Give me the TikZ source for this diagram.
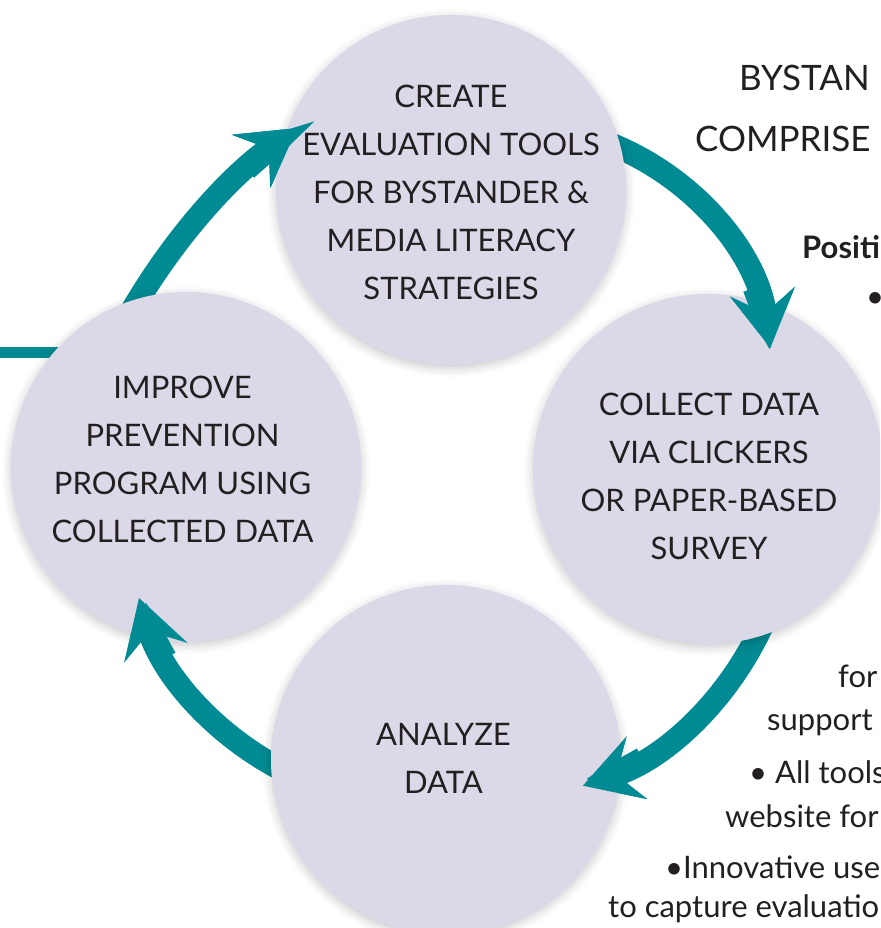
\documentclass[tikz,border=0pt]{standalone}
\usepackage{fontspec}
\setmainfont{Lato}
\usetikzlibrary{arrows.meta,shadows.blur}
\definecolor{tealc}{RGB}{0,139,148}
\definecolor{lav}{RGB}{219,217,232}
\definecolor{ink}{RGB}{35,31,32}
\pgfdeclarelayer{back}
\pgfdeclarelayer{front}
\pgfsetlayers{back,main,front}
\begin{document}
\begin{tikzpicture}[x=1pt,y=-1pt,
  stage/.style={circle, fill=lav, minimum size=350pt, inner sep=0pt,
    blur shadow={shadow xshift=0pt, shadow yshift=-3pt, shadow blur radius=9pt, shadow opacity=22}},
  lbl/.style={font=\fontsize{31}{48}\selectfont, text=ink, align=center, inner sep=0pt},
  flow/.style={draw=tealc, line width=23pt,
    -{Stealth[length=57pt, width=66pt, inset=22pt, line width=0pt]}},
  side/.style={font=\fontsize{31}{47}\selectfont, text=ink, anchor=base west, inner sep=0pt},
  head/.style={side, font=\fontsize{35}{47}\selectfont}]
\useasboundingbox (0,0) rectangle (880,928);
\clip (0,0) rectangle (880,928);

% stages
\node[stage] (top) at (451,190) {};
\node[stage] (right) at (708,469) {};
\node[stage] (bottom) at (446,760) {};
\node[stage] (left) at (186,467) {};

\node[lbl] (ttop) at (451,192.5) {CREATE\\EVALUATION TOOLS\\FOR BYSTANDER \&\\MEDIA LITERACY\\STRATEGIES};
\node[lbl] (tright) at (709,476.5) {COLLECT DATA\\VIA CLICKERS\\OR PAPER-BASED\\SURVEY};
\node[lbl] (tbottom) at (443.5,758.5) {ANALYZE\\DATA};
\node[lbl] (tleft) at (182.5,459.5) {IMPROVE\\PREVENTION\\PROGRAM USING\\COLLECTED DATA};

% arc centres
\coordinate (c1) at (513,385);
\coordinate (c2) at (488,499);
\coordinate (c3) at (417,512);
\coordinate (c4) at (646,610);
\coordinate (feed) at (0,352.5);

\begin{pgfonlayer}{back}
  \draw[tealc, line width=11pt] (feed) -- (feed -| left.center);
  \draw[flow] (c1) ++(-72:260) arc[start angle=-72, end angle=-8.2, radius=260];
  \draw[flow] (c2) ++(21.6:302) arc[start angle=21.6, end angle=71.7, radius=302];
  \draw[flow] (c3) ++(113.6:291) arc[start angle=113.6, end angle=162.8, radius=291];
  \draw[flow] (c4) ++(208.4:595) arc[start angle=208.4, end angle=234.1, radius=595];
\end{pgfonlayer}

\begin{pgfonlayer}{front}
  \draw[flow] (c1) ++(-22:260) arc[start angle=-22, end angle=-8.2, radius=260];
  \draw[flow] (c2) ++(59.2:302) arc[start angle=59.2, end angle=71.7, radius=302];
  \draw[flow] (c3) ++(149.8:291) arc[start angle=149.8, end angle=162.8, radius=291];
  \draw[flow] (c4) ++(227.8:595) arc[start angle=227.8, end angle=234.1, radius=595];
\end{pgfonlayer}

% side text (cut by the page edge)
\node[head] (s1) at (739,91) {BYSTAN};
\node[head] (s2) at (695,152) {COMPRISE};
\node[side, font=\fontsize{31}{47}\selectfont\bfseries] (s3) at (802,258) {Positi};
\node[side] (s4) at (866,307) {•};
\node[side] (s5) at (838,687) {for};
\node[side] (s6) at (767,730) {support};
\node[side] (s7) at (749,783) {• All tools};
\node[side] (s8) at (725,827) {website for};
\node[side] (s9) at (665,878) {•Innovative use};
\node[side] (s10) at (608,917) {to capture evaluatio};
\end{tikzpicture}
\end{document}
